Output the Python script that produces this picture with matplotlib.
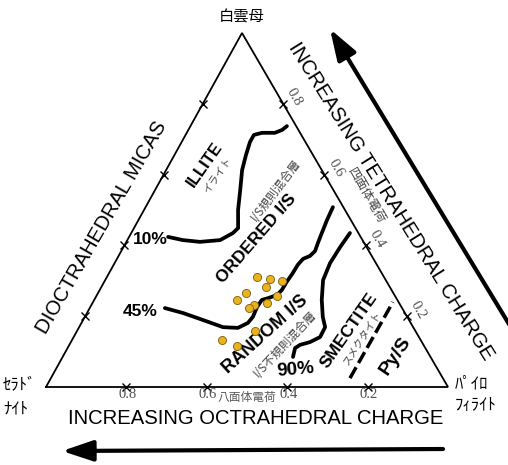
import matplotlib
matplotlib.use("Agg")
import matplotlib.pyplot as plt

# ---------------- data (ternary: tetrahedral charge, octahedral charge) -------------
tick_values = [0.2, 0.4, 0.6, 0.8]
octa_tick_labels = ["0.2", "0.4", "0.6", "0.8"]
tetra_tick_labels = ["0.2", "0.4", "0.6", "0.8"]

dots_tetra = [0.311, 0.305, 0.299, 0.266, 0.282, 0.246, 0.257, 0.232, 0.223, 0.237, 0.158, 0.133, 0.116]
dots_octa = [0.316, 0.287, 0.259, 0.366, 0.308, 0.399, 0.294, 0.364, 0.381, 0.329, 0.399, 0.494, 0.465]

illite_tetra = [0.424, 0.415, 0.410, 0.415, 0.435, 0.449, 0.500, 0.556, 0.613, 0.655, 0.692, 0.712, 0.718, 0.718, 0.726, 0.737]
illite_octa = [0.479, 0.447, 0.407, 0.354, 0.312, 0.292, 0.266, 0.232, 0.198, 0.167, 0.138, 0.118, 0.095, 0.063, 0.041, 0.023]

ordered_tetra = [0.223, 0.209, 0.189, 0.169, 0.167, 0.181, 0.198, 0.226, 0.246, 0.251, 0.260, 0.274, 0.297,
                 0.322, 0.345, 0.362, 0.370, 0.384, 0.407, 0.435, 0.472, 0.508]
ordered_octa = [0.590, 0.552, 0.512, 0.473, 0.437, 0.405, 0.384, 0.359, 0.337, 0.319, 0.292, 0.273, 0.249,
                0.221, 0.197, 0.175, 0.154, 0.134, 0.115, 0.091, 0.059, 0.026]

random_tetra = [0.435, 0.395, 0.350, 0.302, 0.246, 0.198, 0.169, 0.141, 0.127, 0.119, 0.110, 0.085]
random_octa = [0.021, 0.066, 0.114, 0.156, 0.188, 0.210, 0.219, 0.246, 0.278, 0.307, 0.324, 0.342]

pys_tetra = [0.025, 0.240]
pys_octa = [0.231, 0.014]

boundary_labels = ["10%", "45%", "90%"]

# ---------------- layout ----------------
LEFT = (46.0, 387.0)    # celadonite
RIGHT = (448.0, 387.0)  # pyrophyllite
TOP = (242.0, 33.0)     # muscovite

LATIN = ["Liberation Sans", "DejaVu Sans"]
JP = ["Noto Sans CJK JP", "DejaVu Sans"]
SERIF = ["Liberation Serif", "DejaVu Serif"]
GRAY = "#474747"


def to_xy(t, o):
    r = 1.0 - t - o
    x = t * TOP[0] + o * LEFT[0] + r * RIGHT[0]
    y = t * TOP[1] + o * LEFT[1] + r * RIGHT[1]
    return x, y


def path(ts, os_):
    pts = [to_xy(t, o) for t, o in zip(ts, os_)]
    return [p[0] for p in pts], [p[1] for p in pts]


fig = plt.figure(figsize=(5.08, 4.65), dpi=100)
ax = fig.add_axes([0, 0, 1, 1])
ax.set_xlim(0, 508)
ax.set_ylim(465, 0)
ax.axis("off")

# triangle
tx = [LEFT[0], RIGHT[0], TOP[0], LEFT[0]]
ty = [LEFT[1], RIGHT[1], TOP[1], LEFT[1]]
ax.plot(tx, ty, color="black", lw=1.3, solid_joinstyle="miter")

# tick marks
for v in tick_values:
    for (t, o) in [(0.0, v), (v, 0.0), (v, 1.0 - v)]:
        x, y = to_xy(t, o)
        ax.plot([x], [y], marker="x", ms=6, mew=1.0, color="black")

# bottom tick labels (octahedral charge)
for v, lab in zip(tick_values, octa_tick_labels):
    x, y = to_xy(0.0, v)
    ax.text(x + 1, y + 7, lab, family=SERIF, fontsize=10.5, color="#505050",
            ha="center", va="center")

# right-edge tick labels (tetrahedral charge)
nx, ny = 0.864, -0.503
for v, lab in zip(tick_values, tetra_tick_labels):
    x, y = to_xy(v, 0.0)
    ax.text(x + 13 * nx, y + 13 * ny, lab, family=SERIF, fontsize=10.5, color="#505050",
            ha="center", va="center", rotation=-60, rotation_mode="anchor")

# boundary curves
for ts, os_ in [(illite_tetra, illite_octa), (ordered_tetra, ordered_octa), (random_tetra, random_octa)]:
    xs, ys = path(ts, os_)
    ax.plot(xs, ys, color="black", lw=2.7, solid_joinstyle="round", solid_capstyle="round")

xs, ys = path(pys_tetra, pys_octa)
ax.plot(xs, ys, color="black", lw=2.5, dashes=(3.6, 1.4))

# data points
xs, ys = path(dots_tetra, dots_octa)
ax.scatter(xs, ys, s=34, color="#E9B320", edgecolors="#7a5c10", linewidths=0.6, zorder=5)

# boundary percentage labels
for lab, (x, y), rot, fs in zip(boundary_labels, [(150, 239), (140, 311), (296, 370)], [0, 0, 5],
                                [12.5, 12.5, 13.5]):
    ax.text(x, y, lab, family=LATIN, fontsize=fs, fontweight="bold", ha="center", va="center",
            rotation=rot, rotation_mode="anchor")

# field labels
ax.text(205, 165, "ILLITE", family=LATIN, fontsize=12, fontweight="bold", rotation=55,
        ha="center", va="center", rotation_mode="anchor")
ax.text(217, 175, "イライト", family=JP, fontsize=7.5, color=GRAY, rotation=55,
        ha="center", va="center", rotation_mode="anchor")
ax.text(257, 239, "ORDERED I/S", family=LATIN, fontsize=12.5, fontweight="bold", rotation=49,
        ha="center", va="center", rotation_mode="anchor")
ax.text(276, 190, "I/S規則混合層", family=JP, fontsize=8.5, color=GRAY, rotation=53,
        ha="center", va="center", rotation_mode="anchor")
ax.text(265, 334, "RANDOM I/S", family=LATIN, fontsize=13, fontweight="bold", rotation=42,
        ha="center", va="center", rotation_mode="anchor")
ax.text(285, 344, "I/S不規則混合層", family=JP, fontsize=8.5, color=GRAY, rotation=47,
        ha="center", va="center", rotation_mode="anchor")
ax.text(349, 331, "SMECTITE", family=LATIN, fontsize=12.5, fontweight="bold", rotation=55,
        ha="center", va="center", rotation_mode="anchor")
ax.text(363, 338, "スメクタイト", family=JP, fontsize=7.5, color=GRAY, rotation=57,
        ha="center", va="center", rotation_mode="anchor")
ax.text(396, 356, "Py/S", family=LATIN, fontsize=14, fontweight="bold", rotation=56,
        ha="center", va="center", rotation_mode="anchor")

# axis titles
ax.text(256, 418, "INCREASING OCTRAHEDRAL CHARGE", family=LATIN, fontsize=14.6,
        ha="center", va="center")
ax.text(391, 201, "INCREASING TETRAHEDRAL CHARGE", family=LATIN, fontsize=14.6,
        ha="center", va="center", rotation=-58, rotation_mode="anchor")
ax.text(102, 228, "DIOCTRAHEDRAL MICAS", family=LATIN, fontsize=14.6,
        ha="center", va="center", rotation=60, rotation_mode="anchor")
ax.text(247, 397, "八面体電荷", family=JP, fontsize=8.5, color="#5a5a5a", ha="center", va="center")
ax.text(366, 196, "四面体電荷", family=JP, fontsize=9, color=GRAY, ha="center", va="center",
        rotation=-60, rotation_mode="anchor")

# vertex labels
ax.text(242, 17, "白雲母", family=JP, fontsize=11, ha="center", va="center")
ax.text(3, 386, "ｾﾗﾄﾞ", family=JP, fontsize=12, ha="left", va="center")
ax.text(3, 409, "ﾅｲﾄ", family=JP, fontsize=12, ha="left", va="center")
ax.text(455, 384, "ﾊﾟｲﾛ", family=JP, fontsize=12, ha="left", va="center")
ax.text(455, 405, "ﾌｨﾗｲﾄ", family=JP, fontsize=12, ha="left", va="center")

# arrows
arrow_kw = dict(arrowstyle="-|>,head_length=1.25,head_width=0.42", lw=3, color="black",
                mutation_scale=15, shrinkA=0, shrinkB=0)
ax.annotate("", xy=(62, 451), xytext=(443, 449), arrowprops=arrow_kw)
ax.annotate("", xy=(330, 29), xytext=(515, 334), arrowprops=arrow_kw)

fig.savefig("out.png", dpi=100)
